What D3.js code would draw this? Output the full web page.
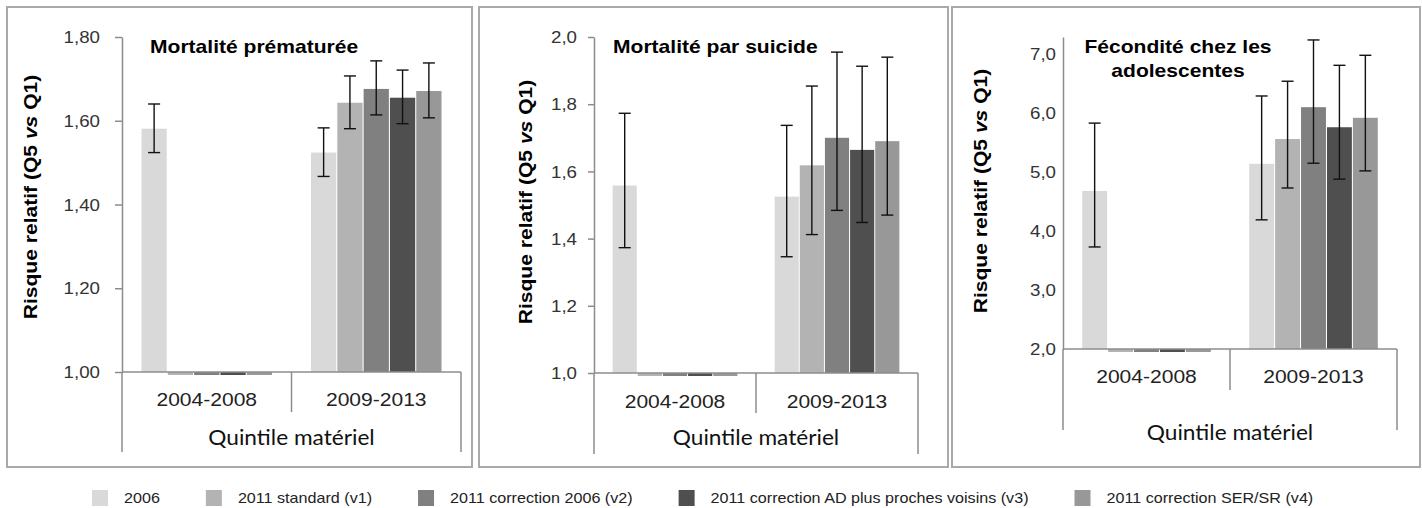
<!DOCTYPE html>
<html><head><meta charset="utf-8">
<script src="https://cdn.jsdelivr.net/npm/d3@7"></script>
<style>body{margin:0;background:#fff}svg{display:block}</style>
</head><body>
<svg id="chart" width="1422" height="508"></svg>
<script>
// ---------- DATA ----------
const categories = ["2004-2008", "2009-2013"];
const seriesNames = ["2006", "2011 standard (v1)", "2011 correction 2006 (v2)", "2011 correction AD plus proches voisins (v3)", "2011 correction SER/SR (v4)"];
const seriesColors = ["#d9d9d9", "#b3b3b3", "#808080", "#4f4f4f", "#989898"];
const axisTitle = "Quintile matériel";

// panel 1 : Mortalité prématurée  (rows = categories, cols = series)
const prematureValues = [[1.581, 0, 0, 0, 0], [1.524, 1.643, 1.676, 1.655, 1.671]];
const prematureLow    = [[1.524, null, null, null, null], [1.467, 1.581, 1.614, 1.593, 1.607]];
const prematureHigh   = [[1.640, null, null, null, null], [1.583, 1.707, 1.743, 1.721, 1.738]];

// panel 2 : Mortalité par suicide
const suicideValues = [[1.558, 0, 0, 0, 0], [1.525, 1.618, 1.700, 1.664, 1.690]];
const suicideLow    = [[1.373, null, null, null, null], [1.346, 1.412, 1.484, 1.448, 1.470]];
const suicideHigh   = [[1.773, null, null, null, null], [1.737, 1.854, 1.955, 1.913, 1.940]];

// panel 3 : Fécondité chez les adolescentes
const fertilityValues = [[4.68, 0, 0, 0, 0], [5.14, 5.56, 6.10, 5.76, 5.92]];
const fertilityLow    = [[3.73, null, null, null, null], [4.19, 4.73, 5.15, 4.88, 5.02]];
const fertilityHigh   = [[5.83, null, null, null, null], [6.29, 6.54, 7.24, 6.81, 6.98]];

const panels = [
  {title: ["Mortalité prématurée"], values: prematureValues, low: prematureLow, high: prematureHigh,
   domain: [1.0, 1.8], fmt: ".2f",
   box: [7, 7, 472, 467], left: 122, right: 461, top: 37, bottom: 372, catBottom: 452, sepBottom: 412,
   catY: 400, quintY: 438, tickSize: 7, tickGap: 22, titleX: 150, titleAnchor: "start", titleY: 53,
   yTitleX: 37, yTitleY: 197},
  {title: ["Mortalité par suicide"], values: suicideValues, low: suicideLow, high: suicideHigh,
   domain: [1.0, 2.0], fmt: ".1f",
   box: [479, 7, 948, 467], left: 594, right: 918, top: 37, bottom: 373, catBottom: 454, sepBottom: 413,
   catY: 402, quintY: 438, tickSize: 6, tickGap: 17, titleX: 613, titleAnchor: "start", titleY: 53,
   yTitleX: 532, yTitleY: 202},
  {title: ["Fécondité chez les", "adolescentes"], values: fertilityValues, low: fertilityLow, high: fertilityHigh,
   domain: [2.0, 7.29], fmt: ".1f",
   box: [952, 7, 1420, 467], left: 1063, right: 1397, top: 37, bottom: 349, catBottom: 430, sepBottom: 390,
   catY: 377, quintY: 433, tickSize: 0, tickGap: 7, titleX: 1178, titleAnchor: "middle", titleY: 53,
   yTitleX: 987, yTitleY: 191}
];

// ---------- DRAW ----------
const svg = d3.select("#chart");
const SX = 1.17;
const FONT = "'Liberation Sans', Arial, Helvetica, sans-serif";
const locale = d3.formatLocale({decimal: ",", thousands: " ", grouping: [3], currency: ["", " €"]});

function stext(g, x, y, str, o = {}) {
  const t = g.append("text")
    .attr("transform", `translate(${x},${y})${o.rotate ? ` rotate(${o.rotate})` : ""} scale(${o.sx || SX},1)`)
    .attr("font-family", o.family || FONT)
    .attr("font-size", o.size || 16)
    .attr("font-weight", o.weight || "normal")
    .attr("text-anchor", o.anchor || "start")
    .attr("fill", o.fill || "#222");
  if (str !== null) t.text(str);
  return t;
}

panels.forEach((p, pi) => {
  const g = svg.append("g");
  // outer border
  g.append("rect").attr("x", p.box[0]).attr("y", p.box[1])
    .attr("width", p.box[2] - p.box[0]).attr("height", p.box[3] - p.box[1])
    .attr("fill", "none").attr("stroke", "#a9a9a9").attr("stroke-width", 2);

  const y = d3.scaleLinear().domain(p.domain).range([p.bottom, p.top]);
  const x0 = d3.scaleBand().domain(categories).range([p.left, p.right]).paddingInner(0.23).paddingOuter(0.115);
  const x1 = d3.scaleBand().domain(seriesNames).range([0, x0.bandwidth()]).paddingInner(0.04);

  const clipId = "clip" + pi;
  svg.append("defs").append("clipPath").attr("id", clipId).append("rect")
    .attr("x", p.left).attr("y", p.top - 5).attr("width", p.right - p.left).attr("height", p.bottom - p.top + 8);

  const rows = [];
  categories.forEach((c, ci) => seriesNames.forEach((s, si) => rows.push({
    c, s, si, v: p.values[ci][si], lo: p.low[ci][si], hi: p.high[ci][si]})));

  const base = p.domain[0];
  g.append("g").attr("clip-path", `url(#${clipId})`).selectAll("rect").data(rows).join("rect")
    .attr("x", d => x0(d.c) + x1(d.s))
    .attr("width", x1.bandwidth())
    .attr("y", d => Math.min(y(d.v), y(base)))
    .attr("height", d => Math.abs(y(base) - y(d.v)))
    .attr("fill", d => seriesColors[d.si]);

  // error bars
  const eb = rows.filter(d => d.lo !== null);
  const capW = 6;
  const eg = g.append("g").attr("stroke", "#111").attr("stroke-width", 1.4);
  eg.selectAll("line.v").data(eb).join("line").attr("class", "v")
    .attr("x1", d => x0(d.c) + x1(d.s) + x1.bandwidth() / 2).attr("x2", d => x0(d.c) + x1(d.s) + x1.bandwidth() / 2)
    .attr("y1", d => y(d.lo)).attr("y2", d => y(d.hi));
  ["lo", "hi"].forEach(k => {
    eg.selectAll("line." + k).data(eb).join("line").attr("class", k)
      .attr("x1", d => x0(d.c) + x1(d.s) + x1.bandwidth() / 2 - capW).attr("x2", d => x0(d.c) + x1(d.s) + x1.bandwidth() / 2 + capW)
      .attr("y1", d => y(d[k])).attr("y2", d => y(d[k]));
  });

  // y axis
  const ax = g.append("g").attr("transform", `translate(${p.left},0)`)
    .call(d3.axisLeft(y).ticks(5).tickSize(p.tickSize).tickSizeOuter(0).tickFormat(locale.format(p.fmt)));
  ax.select(".domain").attr("stroke", "#8c8c8c").attr("stroke-width", 1.5);
  ax.selectAll(".tick line").attr("stroke", "#8c8c8c").attr("stroke-width", 1.5);
  ax.selectAll(".tick text")
    .attr("x", 0).attr("dy", "0.35em")
    .attr("transform", `translate(${-p.tickGap},0) scale(${SX},1)`)
    .attr("font-family", FONT).attr("font-size", 16).attr("fill", "#333");

  // category axis (multi-level)
  const lc = "#8c8c8c";
  g.append("line").attr("x1", p.left).attr("x2", p.right).attr("y1", p.bottom).attr("y2", p.bottom)
    .attr("stroke", lc).attr("stroke-width", 1.5);
  [p.left, p.right].forEach(xx => g.append("line").attr("x1", xx).attr("x2", xx)
    .attr("y1", p.bottom).attr("y2", p.catBottom).attr("stroke", lc).attr("stroke-width", 1.5));
  categories.slice(1).forEach(c => {
    const xx = x0(c) - x0.step() * x0.paddingInner() / 2;
    g.append("line").attr("x1", xx).attr("x2", xx).attr("y1", p.bottom).attr("y2", p.sepBottom)
      .attr("stroke", lc).attr("stroke-width", 1.5);
  });
  categories.forEach(c => {
    stext(g, x0(c) + x0.bandwidth() / 2, p.catY, c, {size: 18, anchor: "middle"}).attr("dy", "0.35em");
  });
  stext(g, (p.left + p.right) / 2, p.quintY, axisTitle,
    {size: 21, anchor: "middle", family: "Lato, 'Open Sans', sans-serif", sx: 1.08, fill: "#111"}).attr("dy", "0.35em");

  // panel title
  p.title.forEach((line, li) => stext(g, p.titleX, p.titleY + li * 24, line,
    {size: 18, weight: "bold", anchor: p.titleAnchor, fill: "#000"}));

  // y title
  const yt = stext(g, p.yTitleX, p.yTitleY, null, {size: 18, weight: "bold", anchor: "middle", rotate: -90, fill: "#000"});
  yt.append("tspan").text("Risque relatif (Q5 ");
  yt.append("tspan").attr("font-style", "italic").text("vs");
  yt.append("tspan").text(" Q1)");
});

// legend
const lg = svg.append("g");
let lx = 92;
seriesNames.forEach((s, i) => {
  lg.append("rect").attr("x", lx).attr("y", 490).attr("width", 16).attr("height", 16).attr("fill", seriesColors[i]);
  const t = stext(lg, lx + 32, 503, s, {size: 13.8, fill: "#222"});
  const w = t.node().getComputedTextLength() * SX;
  lx += 32 + w + 46;
});
</script>
</body></html>
